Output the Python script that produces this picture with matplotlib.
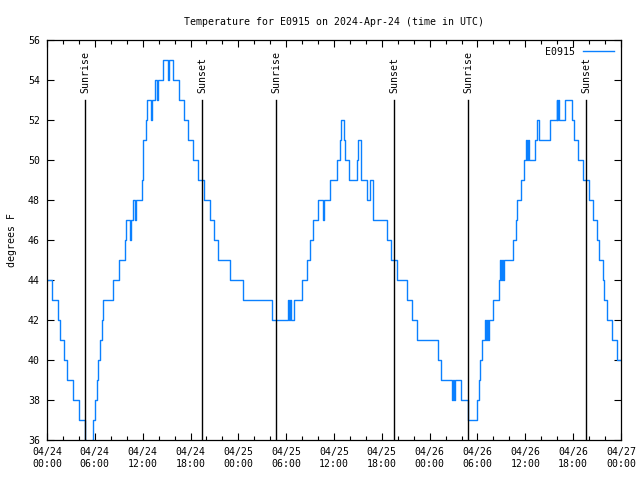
import matplotlib
matplotlib.use('Agg')
import matplotlib.pyplot as plt
from matplotlib.ticker import MultipleLocator

plt.rcParams['font.family'] = 'DejaVu Sans Mono'
plt.rcParams['font.size'] = 7.1

# hours since 2024-04-24 00:00 UTC, temperature (F) from that time on
hours = [0, 0.63, 1.38, 1.57, 2.13, 2.47, 3.26, 4.01, 4.77, 4.89, 5.64, 5.83,
         6.02, 6.23, 6.44, 6.65, 6.86, 7.06, 8.24, 9.03, 9.78, 9.91, 10.41,
         10.54, 10.79, 11.04, 11.16, 11.88, 12.04, 12.42, 12.58, 13.01, 13.13,
         13.55, 13.76, 13.96, 14.59, 15.22, 15.30, 15.84, 16.60, 17.19, 17.72,
         18.28, 18.98, 19.73, 20.45, 20.99, 21.41, 22.96, 24.62, 28.22,
         30.23, 30.36, 30.48, 30.61, 31.02, 31.95, 32.65, 32.99, 33.37, 34.03,
         34.58, 34.75, 35.50, 36.34, 36.75, 36.88, 37.29, 37.38, 37.88, 38.85,
         39.01, 39.43, 40.18, 40.52, 40.86, 42.69, 43.21, 43.90, 45.20, 45.75,
         46.38, 49.01, 49.42, 50.74, 50.87, 50.99, 51.18, 51.87, 52.75,
         54.00, 54.19, 54.32, 54.53, 54.94, 55.07, 55.19, 55.32, 55.44, 55.91,
         56.70, 56.82, 56.95, 57.07, 57.20, 57.33, 58.42, 58.79, 58.99, 59.46,
         59.83, 60.08, 60.25, 60.34, 60.50, 61.25, 61.50, 61.72, 63.09, 63.91,
         64.01, 64.10, 64.19, 64.98, 65.82, 66.14, 66.65, 67.27, 68.03, 68.53,
         68.95, 69.28, 69.70, 69.87, 70.28, 70.84, 71.46, 72.00]
temps = [44, 43, 42, 41, 40, 39, 38, 37, 36, 35, 36, 37,
         38, 39, 40, 41, 42, 43, 44, 45, 46, 47, 46,
         47, 48, 47, 48, 49, 51, 52, 53, 52, 53,
         54, 53, 54, 55, 54, 55, 54, 53, 52, 51,
         50, 49, 48, 47, 46, 45, 44, 43, 42,
         43, 42, 43, 42, 43, 44, 45, 46, 47, 48,
         47, 48, 49, 50, 51, 52, 51, 50, 49, 50,
         51, 49, 48, 49, 47, 46, 45, 44, 43, 42,
         41, 40, 39, 38, 39, 38, 39, 38, 37,
         38, 39, 40, 41, 42, 41, 42, 41, 42, 43,
         44, 45, 44, 45, 44, 45, 46, 47, 48, 49,
         50, 51, 50, 51, 50, 51, 52, 51, 52, 53,
         52, 53, 52, 53, 52, 51, 50, 49, 48, 47,
         46, 45, 44, 43, 42, 41, 40, 40]

sunrise = [4.80, 28.77, 52.85]
sunset = [19.48, 43.57, 67.65]

xtick_labels = ['04/24\n00:00', '04/24\n06:00', '04/24\n12:00', '04/24\n18:00',
                '04/25\n00:00', '04/25\n06:00', '04/25\n12:00', '04/25\n18:00',
                '04/26\n00:00', '04/26\n06:00', '04/26\n12:00', '04/26\n18:00',
                '04/27\n00:00']

fig = plt.figure(figsize=(6.4, 4.8), dpi=100)
ax = fig.add_axes([47/640, 40/480, 574/640, 400/480])

ax.plot(hours, temps, drawstyle='steps-post', color='#0a80ff', lw=1.0, label='E0915')

for h in sunrise:
    ax.plot([h, h], [36, 53], color='black', lw=1.0)
    ax.text(h, 53.35, 'Sunrise', rotation=90, ha='center', va='bottom')
for h in sunset:
    ax.plot([h, h], [36, 53], color='black', lw=1.0)
    ax.text(h, 53.35, 'Sunset', rotation=90, ha='center', va='bottom')

ax.set_xlim(0, 72)
ax.set_ylim(36, 56)
ax.set_xticks(range(0, 73, 6))
ax.set_xticklabels(xtick_labels)
ax.xaxis.set_minor_locator(MultipleLocator(2))
ax.set_yticks(range(36, 57, 2))
ax.tick_params(which='major', direction='in', top=True, right=True, length=5, width=0.8, pad=5)
ax.tick_params(which='minor', direction='in', top=True, right=True, length=3, width=0.8)
for s in ax.spines.values():
    s.set_linewidth(0.9)

ax.set_ylabel('degrees F', labelpad=8)
ax.set_title('Temperature for E0915 on 2024-Apr-24 (time in UTC)', fontsize=7.1, pad=11)

leg = ax.legend(loc='upper right', frameon=False, markerfirst=False,
                handlelength=3.2, borderaxespad=0.3, handletextpad=0.8)

plt.savefig('out.png', dpi=100)
